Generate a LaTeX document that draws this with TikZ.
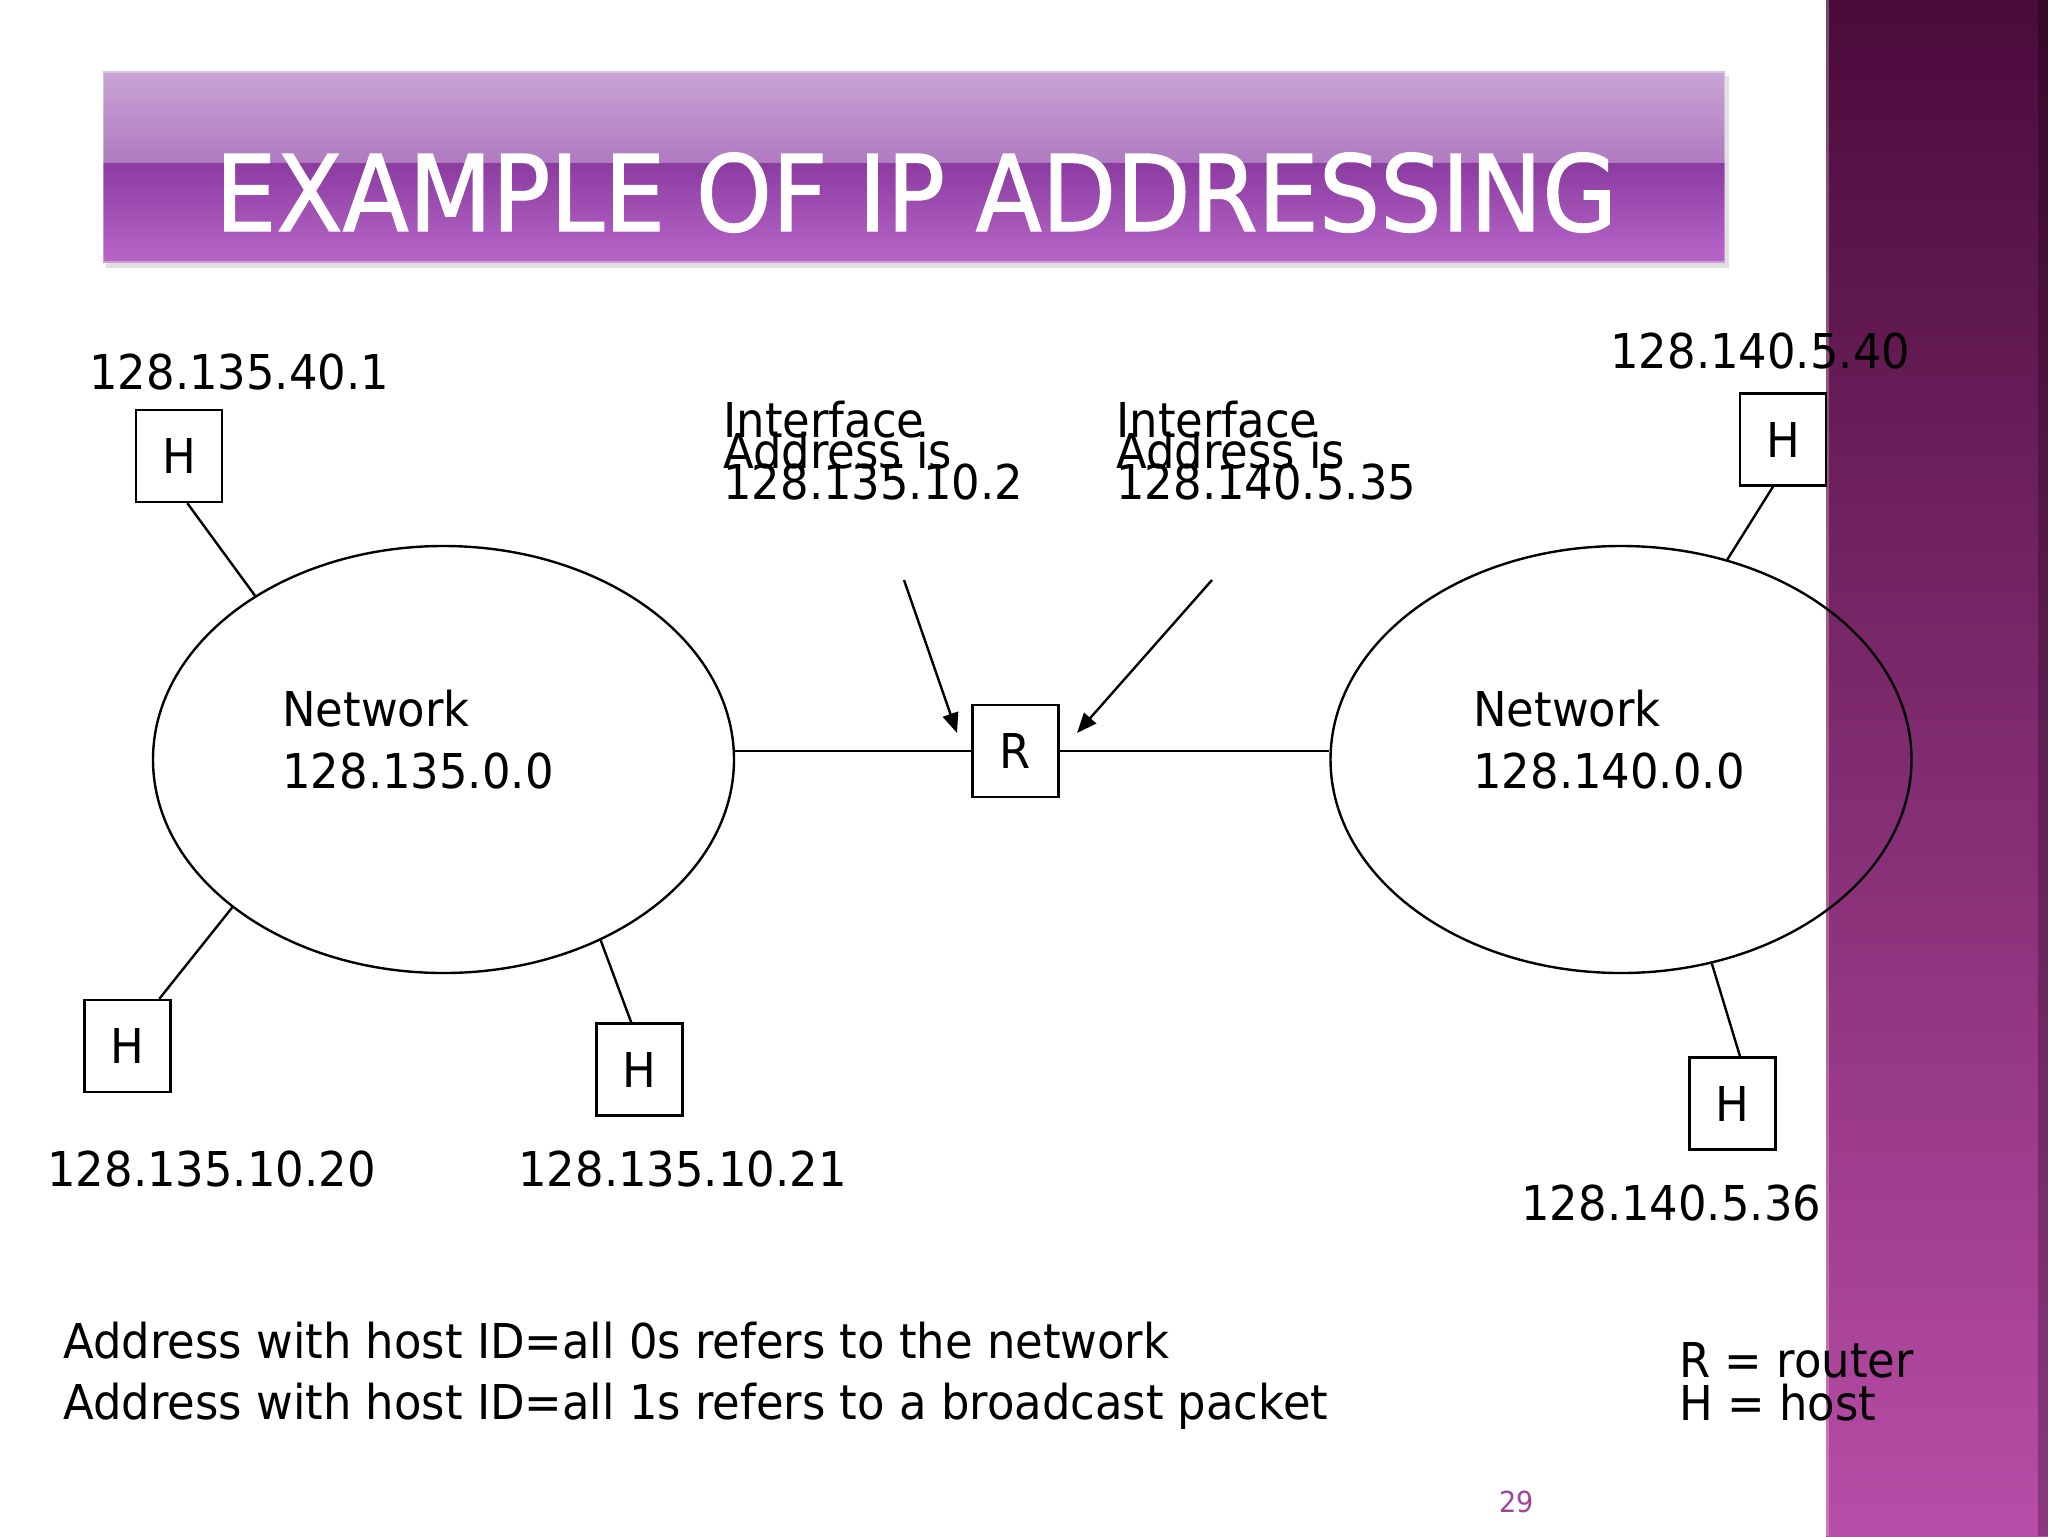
\documentclass[tikz,border=0pt]{standalone}
\usepackage{fontspec}
\setmainfont{DejaVu Sans}[FakeStretch=0.935]
\newfontfamily\titlefont{DejaVu Sans}[FakeStretch=0.915,FakeBold=1.2]
\usetikzlibrary{shapes.geometric,arrows.meta}
\definecolor{bandtop}{HTML}{4A0B3A}
\definecolor{bandmid}{HTML}{8A3379}
\definecolor{bandbot}{HTML}{B84DA7}
\definecolor{barA}{HTML}{C8A3D4}
\definecolor{barB}{HTML}{B07AC1}
\definecolor{barC}{HTML}{8C3BA1}
\definecolor{barD}{HTML}{B766C8}
\definecolor{pagenum}{HTML}{A0449A}
\begin{document}
\begin{tikzpicture}[x=0.5pt,y=-0.5pt,
  txt/.style={anchor=base west, inner sep=0pt, font=\fontsize{24}{24}\selectfont},
  hostbox/.style={draw, line width=1.2pt, minimum width=43pt, minimum height=46pt, inner sep=0pt, font=\fontsize{24}{24}\selectfont},
  net/.style={draw, ellipse, line width=1.2pt, minimum width=290.5pt, minimum height=213.5pt, inner sep=0pt},
  link/.style={line width=1.2pt},
  ptr/.style={line width=1.2pt, -{Triangle[length=10pt,width=8pt]}}]
\useasboundingbox (0,0) rectangle (2048,1536);
\fill[white] (0,0) rectangle (2048,1536);
% right band
\shade[top color=bandtop, middle color=bandmid, bottom color=bandbot] (1826,0) rectangle (2048,1536);
\fill[black,opacity=0.25] (2038,0) rectangle (2048,1536);
\fill[white,opacity=0.25] (1826,0) rectangle (1829,1536);
% title bar
\fill[black,opacity=0.12] (106,76) rectangle (1729,268);
\shade[top color=barA, bottom color=barB] (103,72) rectangle (1725,163);
\shade[top color=barC, bottom color=barD] (103,163) rectangle (1725,262);
\draw[white,opacity=0.35,line width=1pt] (103,72) rectangle (1725,262);
\node[anchor=base west, inner sep=0pt, text=white, font=\titlefont\fontsize{52.8}{52.8}\selectfont] (title) at (215,231) {EXAMPLE OF IP ADDRESSING};
% networks
\node[net] (netL) at (443.5,759.5) {};
\node[net] (netR) at (1621,759.5) {};
\node[txt] (nL1) at (282,726) {Network};
\node[txt] (nL2) at (282,788) {128.135.0.0};
\node[txt] (nR1) at (1473,726) {Network};
\node[txt] (nR2) at (1473,788) {128.140.0.0};
% hosts and router
\node[hostbox] (H1) at (179,456) {H};
\node[hostbox] (H2) at (127.5,1046) {H};
\node[hostbox] (H3) at (639.5,1069.5) {H};
\node[hostbox] (H4) at (1783,439.5) {H};
\node[hostbox] (H5) at (1732.5,1103.5) {H};
\node[hostbox] (R) at (1015.5,751) {R};
% links
\draw[link] (H1.-80) -- (netL.139);
\draw[link] (netL.215) -- (H2.56);
\draw[link] (netL.-49) -- (H3.100);
\draw[link] (H4.-102) -- (netR.62);
\draw[link] (netR.-66) -- (H5.81);
\draw[link] (R.west -| netL.east) -- (R.west);
\draw[link] (R.east) -- (R.east -| netR.west);
% interface arrows
\coordinate (a1s) at (904,580);
\coordinate (a1e) at (957,733);
\coordinate (a2s) at (1212,580);
\coordinate (a2e) at (1077,733);
\draw[ptr] (a1s) -- (a1e);
\draw[ptr] (a2s) -- (a2e);
% labels
\node[txt] (l1) at (89,389) {128.135.40.1};
\node[txt] (l4) at (1610,368) {128.140.5.40};
\node[txt] (l2) at (47,1186) {128.135.10.20};
\node[txt] (l3) at (518,1186) {128.135.10.21};
\node[txt] (l5) at (1521,1220) {128.140.5.36};
\node[txt] (i1a) at (723,437) {Interface};
\node[txt] (i1b) at (723,468) {Address is};
\node[txt] (i1c) at (723,499) {128.135.10.2};
\node[txt] (i2a) at (1116,437) {Interface};
\node[txt] (i2b) at (1116,468) {Address is};
\node[txt] (i2c) at (1116,499) {128.140.5.35};
\node[txt] (n1) at (63,1358) {Address with host ID=all 0s refers to the network};
\node[txt] (n2) at (63,1419) {Address with host ID=all 1s refers to a broadcast packet};
\node[txt] (k1) at (1679,1377) {R = router};
\node[txt] (k2) at (1679,1420) {H = host};
\node[anchor=base west, inner sep=0pt, text=pagenum, font=\fontsize{14.5}{14.5}\selectfont] (pg) at (1499,1512) {29};
\end{tikzpicture}
\end{document}
